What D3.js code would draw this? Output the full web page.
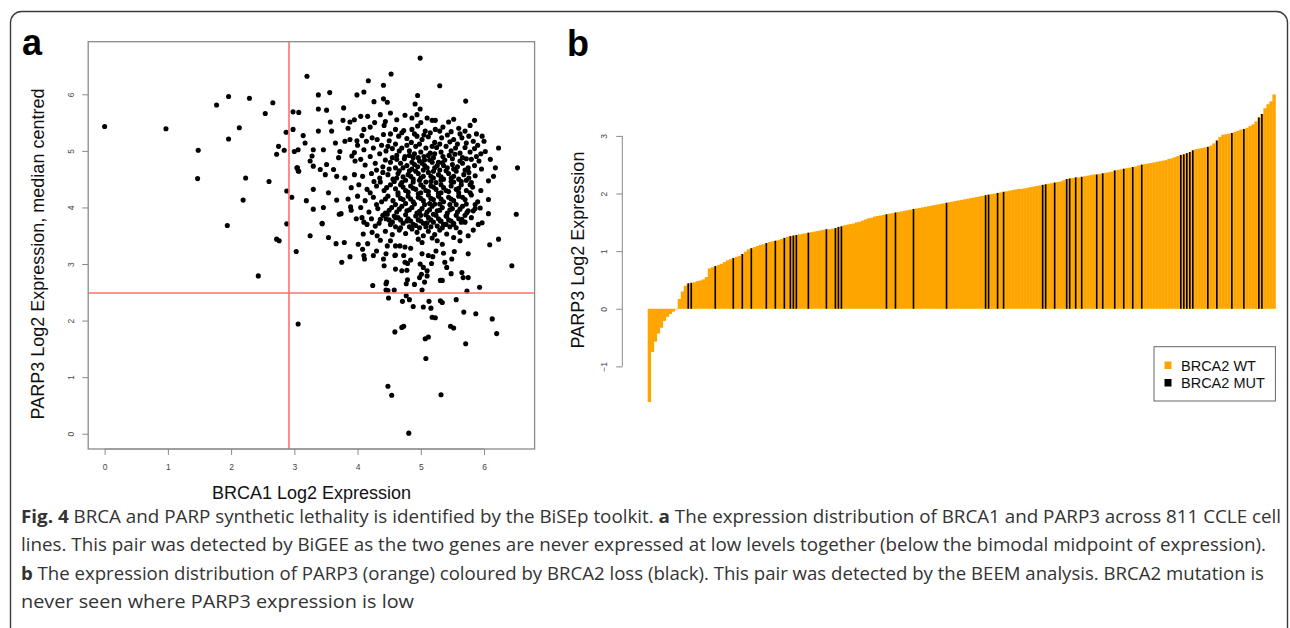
<!DOCTYPE html>
<html><head><meta charset="utf-8">
<script src="https://cdn.jsdelivr.net/npm/d3@7"></script>
<style>body{margin:0;background:#fff}svg{display:block}</style>
</head><body>
<svg id="fig" width="1290" height="628"></svg>
<script>
// ---------- Panel a data: BRCA1 (x) vs PARP3 (y) ----------
const scatterPoints = [
[0.00,5.43],[0.97,5.39],[1.77,5.81],[1.96,5.96],[2.29,5.93],[2.66,5.85],[2.54,5.66],[2.13,5.41],[1.96,5.21],[1.48,5.01],[1.47,4.51],[2.23,4.52],[2.60,4.46],[2.19,4.13],[1.94,3.68],[2.43,2.79],[2.88,4.29],[2.96,4.18],[2.88,3.71],[2.72,3.44],[2.76,3.41],[3.03,3.22],[3.06,1.94],[2.75,5.08],[2.84,5.01],[2.72,4.94],[2.87,5.33],[2.98,5.38],[2.98,5.69],[3.07,5.68],[3.00,4.99],[3.05,4.70],[3.06,4.65],[3.06,5.02],
[4.99,6.64],[3.20,6.32],[4.53,6.36],[4.17,6.24],[4.41,6.16],[5.30,6.15],[3.56,6.03],[3.38,5.99],[3.99,5.99],[4.10,6.04],[4.95,5.98],[5.71,5.88],[4.26,5.87],[4.41,5.92],[4.47,5.86],[4.91,5.83],[4.99,5.74],[3.38,5.74],[3.51,5.72],[3.78,5.76],[3.57,5.51],[3.77,5.54],[3.88,5.51],[3.38,5.35],[3.59,5.35],[3.14,5.27],[3.17,5.14],[3.30,5.02],[3.46,5.02],
[6.23,5.05],[6.53,4.70],[6.51,3.88],[6.18,4.70],[6.10,4.85],[6.02,4.99],[6.07,4.47],[6.15,4.55],[6.07,4.14],[6.07,3.89],[5.97,3.73],[6.23,3.44],
[3.28,4.91],[3.25,4.82],[3.30,4.73],[3.41,4.67],[3.51,4.76],[3.49,4.58],[3.62,4.67],[3.67,4.55],[3.80,4.52],[3.04,4.70],[3.07,4.64],[3.30,4.32],[3.19,4.12],[3.30,3.97],[3.44,3.72],[3.54,4.26],[3.67,4.13],[3.74,3.89],[3.89,4.01],[3.72,4.99],[3.70,4.88],[3.91,4.91],[3.96,4.82],[3.25,3.50],[3.54,3.47],[3.46,4.00],[3.71,3.88],[3.44,3.71],[3.66,3.36],[3.79,3.38],[3.88,3.13],[3.75,3.03],[4.01,3.35],[4.16,3.36],[4.08,3.26],
[4.24,2.62],[4.46,2.68],[4.45,2.54],[4.58,2.54],[4.49,2.40],[4.71,2.34],[4.77,2.65],[4.82,2.37],[4.88,2.25],[4.77,2.44],[4.90,2.64],[5.02,2.54],[5.04,2.24],[5.13,2.34],[5.16,2.22],[5.18,2.06],[5.23,2.05],[5.31,2.35],[5.34,2.32],[5.47,1.90],[5.52,1.87],[5.56,2.37],[5.68,2.15],[5.73,2.52],[5.87,2.12],[5.93,2.59],[6.13,2.03],[6.20,1.77],[5.71,1.59],[5.08,1.33],[5.07,1.68],[5.12,1.71],[4.73,1.90],[4.70,1.88],[4.59,1.80],[4.48,0.84],[4.54,0.68],[5.32,0.69],[4.81,0.01],
[4.25,3.15],[4.30,3.23],[4.36,3.42],[4.41,3.09],[4.47,3.32],[4.52,3.41],[4.60,3.16],[4.60,2.91],[4.73,3.15],[4.75,3.03],[4.78,2.89],[4.84,3.07],[4.84,3.28],[4.99,3.00],[5.02,3.18],[5.10,2.88],[5.12,3.15],[5.17,3.01],[5.24,3.23],[5.31,2.71],[5.34,2.71],[5.36,3.19],[5.41,2.94],[5.48,2.83],[5.53,3.22],[5.65,2.85],[5.67,2.76],[5.75,3.50],[5.75,3.18],[5.75,2.76],[5.91,3.70],[5.94,3.99],[6.09,3.34],[6.44,2.97],[4.60,3.32],[4.67,3.32],[4.75,3.30],[4.96,3.44],[5.02,3.38],[5.18,3.46],[5.26,3.41],[5.34,3.35],[5.41,3.53],[5.52,3.47],[5.62,3.41],[5.62,3.56],[4.07,3.82],[4.15,3.70],[4.28,3.67],[4.36,3.79],[4.47,3.88],[4.09,3.53],[4.23,3.56],[4.31,3.50],[4.44,3.58],[4.52,3.70],[4.60,3.82],[4.78,3.76],[4.86,3.62],[5.10,3.73],[5.20,3.88],[5.31,3.76],[5.41,3.85],[5.52,3.70],[5.65,3.79],[5.73,3.91],[5.83,3.94],
[4.10,3.15],[5.38,3.03],[5.49,3.09],[5.04,2.94],[4.98,2.76],[5.01,2.82],[5.10,2.79],[5.06,2.68],[5.19,3.13],[4.70,2.88],[4.79,3.01],[4.79,2.72],[4.59,3.15],[4.45,3.18],[4.42,2.97],[4.11,3.09],[4.48,2.53],[4.45,2.65],
[4.05,5.61],[4.16,5.61],[4.36,5.64],[4.52,5.67],[4.75,5.63],[4.86,5.58],[4.94,5.64],[5.18,5.54],[5.23,5.54],[5.44,5.51],[5.52,5.56],[5.85,5.54],[4.62,5.55],[4.44,5.52],[5.00,5.50],[5.10,5.58],[4.27,5.50],[3.95,5.55],
[4.60,5.38],[4.73,5.36],[4.86,5.38],[5.07,5.35],[5.15,5.32],[5.23,5.38],[4.20,5.42],[4.42,5.45],[4.95,5.44],[5.35,5.42],[5.60,5.40],[5.70,5.35],[3.85,5.40],[4.10,5.38],[5.78,5.45],[5.88,5.30],
[4.07,5.27],[4.14,5.17],[4.23,5.23],[4.31,5.20],[4.41,5.29],[4.65,5.26],[4.94,5.26],[5.33,5.23],[5.52,5.20],[5.65,5.23],[5.76,5.26],[5.83,5.17],[5.97,5.26],[6.00,5.17],[4.50,5.18],[4.78,5.22],[4.85,5.15],[5.02,5.20],[5.12,5.25],[5.22,5.15],[5.42,5.28],[5.58,5.12],[5.90,5.10],[4.60,5.12],[4.38,5.10],[4.00,5.10],[3.65,5.14],[3.80,5.17],[3.88,5.20],[3.99,5.18],
[4.10,5.02],[4.25,5.05],[4.45,5.00],[4.55,5.04],[4.70,5.05],[4.82,5.00],[4.92,5.08],[5.00,4.98],[5.08,5.05],[5.15,4.96],[5.25,5.06],[5.32,4.98],[5.40,5.08],[5.48,5.00],[5.55,5.05],[5.62,4.96],[5.70,5.06],[5.78,4.98],[5.85,5.04],[5.95,4.95],[4.35,4.95],[4.62,4.92],[4.75,4.90],[4.88,4.88],[5.05,4.90],[5.20,4.88],[5.35,4.90],[5.50,4.86],[5.66,4.88],[5.80,4.85],[5.92,4.82],[4.20,4.90],[3.95,4.97],[4.05,4.85],
[4.12,4.75],[4.28,4.78],[4.40,4.72],[4.52,4.80],[4.60,4.70],[4.68,4.78],[4.78,4.74],[4.86,4.80],[4.95,4.72],[5.02,4.78],[5.10,4.70],[5.18,4.80],[5.26,4.74],[5.34,4.79],[5.42,4.70],[5.50,4.76],[5.58,4.72],[5.66,4.78],[5.75,4.70],[5.85,4.74],[5.96,4.68],[4.98,4.82],[5.14,4.84],[5.30,4.66],[4.82,4.65],
[3.95,4.58],[4.08,4.55],[4.22,4.60],[4.35,4.52],[4.48,4.58],[4.56,4.50],[4.64,4.60],[4.72,4.54],[4.80,4.58],[4.88,4.50],[4.96,4.60],[5.04,4.55],[5.12,4.62],[5.20,4.52],[5.28,4.58],[5.36,4.50],[5.44,4.60],[5.52,4.55],[5.60,4.50],[5.68,4.58],[5.76,4.52],[5.86,4.56],[4.92,4.64],[5.08,4.45],[5.24,4.44],[4.70,4.44],
[3.90,4.35],[4.02,4.40],[4.15,4.32],[4.30,4.38],[4.42,4.30],[4.52,4.40],[4.60,4.33],[4.68,4.40],[4.76,4.30],[4.84,4.38],[4.92,4.32],[5.00,4.40],[5.08,4.30],[5.16,4.38],[5.24,4.32],[5.32,4.40],[5.40,4.30],[5.48,4.38],[5.56,4.32],[5.64,4.40],[5.72,4.30],[5.82,4.36],[5.95,4.30],[4.88,4.45],[5.52,4.45],[4.36,4.45],
[3.85,4.15],[4.00,4.20],[4.12,4.12],[4.25,4.18],[4.38,4.10],[4.48,4.20],[4.56,4.12],[4.64,4.22],[4.72,4.14],[4.80,4.20],[4.88,4.10],[4.96,4.18],[5.04,4.12],[5.12,4.22],[5.20,4.14],[5.28,4.20],[5.36,4.10],[5.44,4.18],[5.52,4.12],[5.60,4.20],[5.70,4.14],[5.80,4.22],[5.90,4.10],[5.00,4.26],[5.32,4.26],
[3.90,3.95],[4.05,4.00],[4.18,3.92],[4.32,3.98],[4.44,3.90],[4.54,4.00],[4.62,3.92],[4.70,4.02],[4.78,3.94],[4.86,4.00],[4.94,3.90],[5.02,3.98],[5.10,3.92],[5.18,4.02],[5.26,3.94],[5.34,4.00],[5.42,3.90],[5.50,3.98],[5.58,3.92],[5.66,4.02],[5.75,3.94],[5.86,3.98],[4.90,4.06],[5.22,4.06],[5.46,4.05],
[3.98,3.80],[4.10,3.74],[4.22,3.80],[4.34,3.72],[4.45,3.80],[4.55,3.74],[4.64,3.82],[4.72,3.72],[4.80,3.80],[4.88,3.70],[4.96,3.78],[5.04,3.72],[5.12,3.82],[5.20,3.74],[5.28,3.80],[5.36,3.70],[5.44,3.78],[5.52,3.72],[5.60,3.80],[5.70,3.74],[5.80,3.82],[5.00,3.86],[5.16,3.66],[4.68,3.64],
[4.55,3.52],[4.66,3.60],[4.76,3.54],[4.94,3.56],[5.04,3.50],[5.12,3.58],[5.22,3.52],[5.30,3.60],[5.83,3.60],[4.98,3.64],[5.34,3.64],
[4.62,4.85],[4.74,4.86],[4.90,4.95],[5.06,4.84],[5.22,4.95],[5.38,4.84],[5.54,4.94],[4.66,4.65],[4.86,4.68],[5.04,4.66],[5.20,4.64],[5.40,4.65],[5.56,4.64],[4.58,4.46],[4.76,4.48],[4.98,4.48],[5.16,4.46],[5.32,4.48],[5.48,4.46],[5.64,4.46],[4.64,4.26],[4.80,4.27],[4.96,4.24],[5.12,4.28],[5.28,4.25],[5.44,4.28],[5.60,4.26],[4.60,4.05],[4.76,4.07],[5.06,4.05],[5.14,4.07],[5.30,4.06],[5.56,4.05],[5.72,4.06],[4.58,3.85],[4.76,3.87],[4.92,3.85],[5.08,3.87],[5.24,3.86],[5.40,3.85],[5.56,3.86],[4.82,3.66],[5.08,3.66],[5.26,3.67],[5.46,3.66],[4.40,4.62],[4.44,4.84],[4.30,4.66],[4.26,4.46],[4.20,4.26],[4.30,4.05],[4.40,3.86],[5.76,4.62],[5.72,4.86],[5.80,4.44],[5.78,4.26],[5.86,4.05],[5.70,3.86],
[4.52,5.30],[4.70,5.32],[4.90,5.30],[5.05,5.28],[5.30,5.35],[5.48,5.34],[5.62,5.30],
[4.48,5.08],[4.66,5.00],[4.78,5.10],[4.98,5.12],[5.18,5.08],[5.30,5.12],[5.46,5.16],[5.72,5.14],
[4.55,4.88],[4.82,4.92],[4.96,4.88],[5.12,4.92],[5.28,4.80],[5.45,4.92],[5.62,4.82],[5.88,4.90],
[4.50,4.68],[4.72,4.70],[4.90,4.76],[5.06,4.74],[5.22,4.70],[5.36,4.74],[5.52,4.68],[5.70,4.66],
[4.62,4.52],[4.84,4.55],[5.00,4.52],[5.16,4.55],[5.32,4.54],[5.48,4.52],[5.72,4.48],
[4.46,4.35],[4.72,4.36],[4.88,4.34],[5.04,4.36],[5.20,4.36],[5.36,4.35],[5.60,4.34],[5.78,4.40],
[4.44,4.15],[4.68,4.16],[4.84,4.15],[5.00,4.16],[5.16,4.16],[5.32,4.15],[5.48,4.15],[5.66,4.18],
[4.50,3.95],[4.66,3.97],[4.82,3.96],[4.98,3.93],[5.14,3.96],[5.30,3.95],[5.46,3.96],[5.62,3.97],
[4.50,3.78],[4.68,3.78],[4.84,3.76],[5.00,3.76],[5.16,3.78],[5.32,3.76],[5.48,3.76],[5.64,3.74],
[4.60,3.66],[4.92,3.68],[5.40,3.70],[5.56,3.64]
];
const xTicksA = [0,1,2,3,4,5,6];
const yTicksA = [0,1,2,3,4,5,6];
const brca1Midpoint = 2.92;
const parp3Midpoint = 2.48;

// ---------- Panel b data: PARP3 sorted expression ----------
const parp3Sorted = [
-1.62,-0.75,-0.57,-0.43,-0.33,-0.21,-0.14,-0.09,-0.05,-0.01,
0.17,0.30,0.40,0.44,0.45,0.46,0.48,0.49,0.51,0.55,
0.70,0.72,0.74,0.76,0.78,0.81,0.84,0.86,0.88,0.90,
0.92,0.95,0.99,1.03,1.05,1.07,1.09,1.11,1.12,1.14,
1.16,1.17,1.18,1.19,1.21,1.23,1.25,1.26,1.27,1.28,
1.29,1.30,1.31,1.32,1.33,1.34,1.35,1.36,1.37,1.38,
1.38,1.39,1.40,1.42,1.43,1.45,1.46,1.47,1.48,1.50,
1.51,1.53,1.55,1.57,1.58,1.60,1.61,1.62,1.63,1.64,
1.65,1.66,1.67,1.68,1.69,1.70,1.71,1.72,1.73,1.74,
1.75,1.76,1.77,1.78,1.79,1.80,1.81,1.82,1.83,1.84,
1.85,1.86,1.87,1.88,1.89,1.90,1.91,1.92,1.93,1.94,
1.95,1.96,1.97,1.98,1.99,2.00,2.01,2.02,2.03,2.04,
2.05,2.06,2.07,2.08,2.08,2.09,2.10,2.11,2.12,2.13,
2.14,2.15,2.16,2.17,2.18,2.19,2.20,2.21,2.23,2.25,
2.26,2.27,2.28,2.28,2.29,2.30,2.31,2.32,2.33,2.33,
2.34,2.35,2.36,2.37,2.38,2.40,2.41,2.42,2.43,2.44,
2.45,2.46,2.47,2.49,2.50,2.51,2.52,2.53,2.54,2.55,
2.56,2.57,2.58,2.60,2.61,2.63,2.65,2.67,2.68,2.70,
2.72,2.75,2.77,2.78,2.79,2.80,2.81,2.83,2.87,2.92,
2.98,3.02,3.03,3.04,3.05,3.07,3.09,3.11,3.12,3.14,
3.17,3.20,3.25,3.32,3.38,3.48,3.55,3.60,3.72
];
// positions (in sorted order) of BRCA2-mutant cell lines
const brca2MutIndex = [13,14,22,28,31,34,39,42,45,47,48,49,53,59,62,63,64,79,82,88,99,112,113,116,118,131,132,135,139,140,142,144,149,151,155,158,161,164,177,178,179,180,181,186,189,194,198,203,204];
const yTicksB = [-1,0,1,2,3];
const legendItems = [{label:"BRCA2 WT", color:"#FFA500"},{label:"BRCA2 MUT", color:"#000000"}];

// ---------- Caption ----------
const captionLines = [
  [["Fig. 4",true],[" BRCA and PARP synthetic lethality is identified by the BiSEp toolkit. ",false],["a",true],[" The expression distribution of BRCA1 and PARP3 across 811 CCLE cell",false]],
  [["lines. This pair was detected by BiGEE as the two genes are never expressed at low levels together (below the bimodal midpoint of expression).",false]],
  [["b",true],[" The expression distribution of PARP3 (orange) coloured by BRCA2 loss (black). This pair was detected by the BEEM analysis. BRCA2 mutation is",false]],
  [["never seen where PARP3 expression is low",false]]
];
const captionWidths = [1260, 1245, 1243, 393];

const svg = d3.select("#fig");
const FONT = "'Liberation Sans', Arial, Helvetica, sans-serif";

// outer frame
svg.append("rect").attr("x",10.5).attr("y",11.5).attr("width",1277).attr("height",700)
  .attr("rx",11).attr("fill","none").attr("stroke","#3a3a3a").attr("stroke-width",1.4);

// ---------- Panel a ----------
const xA = d3.scaleLinear().domain([-0.26, 6.80]).range([88.2, 534.6]);
const yA = d3.scaleLinear().domain([-0.27, 6.93]).range([449, 41.7]);
const gA = svg.append("g");

gA.append("g").selectAll("circle").data(scatterPoints).join("circle")
  .attr("cx", d => xA(d[0])).attr("cy", d => yA(d[1])).attr("r", 2.55).attr("fill", "#000");

const vx = Math.round(xA(brca1Midpoint));
const hy = Math.round(yA(parp3Midpoint));
gA.append("line").attr("x1", vx).attr("x2", vx)
  .attr("y1", yA.range()[0]).attr("y2", yA.range()[1]).attr("stroke", "#ff6e6e").attr("stroke-width", 1.6);
gA.append("line").attr("y1", hy).attr("y2", hy)
  .attr("x1", xA.range()[0]).attr("x2", xA.range()[1]).attr("stroke", "#ff6e6e").attr("stroke-width", 1.6);

gA.append("rect").attr("x", xA.range()[0]).attr("y", yA.range()[1])
  .attr("width", xA.range()[1]-xA.range()[0]).attr("height", yA.range()[0]-yA.range()[1])
  .attr("fill","none").attr("stroke","#8a8a8a").attr("stroke-width",1.3);

const axXA = gA.append("g").attr("transform", `translate(0,${yA.range()[0]})`)
  .call(d3.axisBottom(xA).tickValues(xTicksA).tickSize(6).tickPadding(9).tickFormat(d3.format("d")));
axXA.select(".domain").remove();
axXA.append("line").attr("x1", xA(xTicksA[0])).attr("x2", xA(xTicksA[xTicksA.length-1])).attr("stroke","#8a8a8a");
axXA.selectAll(".tick line").attr("stroke","#8a8a8a");
axXA.selectAll(".tick text").attr("font-family",FONT).attr("font-size",8.5).attr("fill","#444");

const axYA = gA.append("g").attr("transform", `translate(${xA.range()[0]},0)`)
  .call(d3.axisLeft(yA).tickValues(yTicksA).tickSize(6).tickFormat(d3.format("d")));
axYA.select(".domain").remove();
axYA.selectAll(".tick line").attr("stroke","#8a8a8a");
axYA.selectAll(".tick text").attr("font-family",FONT).attr("font-size",8.5).attr("fill","#444")
  .attr("transform","rotate(-90)").attr("x",0).attr("y",-14).attr("dy",null).attr("text-anchor","middle");

gA.append("text").attr("x", 311.5).attr("y", 499).attr("text-anchor","middle")
  .attr("font-family",FONT).attr("font-size",18).attr("fill","#111").text("BRCA1 Log2 Expression");
gA.append("text").attr("transform","translate(44,254) rotate(-90)").attr("text-anchor","middle")
  .attr("font-family",FONT).attr("font-size",18).attr("fill","#111").text("PARP3 Log2 Expression, median centred");
svg.append("text").attr("x",22).attr("y",55).attr("font-family",FONT).attr("font-weight","bold")
  .attr("font-size",36).attr("fill","#000").text("a");

// ---------- Panel b ----------
const xB = d3.scaleBand().domain(d3.range(parp3Sorted.length)).range([647.7, 1275.4]).padding(0);
const yB = d3.scaleLinear().domain([-1, 3]).range([366.4, 135.9]);
const gB = svg.append("g");
const bw = xB.bandwidth();

gB.append("g").selectAll("rect").data(parp3Sorted).join("rect")
  .attr("x", (d,i) => xB(i)).attr("width", bw + 0.4)
  .attr("y", d => Math.min(yB(d), yB(0))).attr("height", d => Math.abs(yB(d) - yB(0)))
  .attr("fill", "#FFA500");

gB.append("g").selectAll("rect").data(brca2MutIndex).join("rect")
  .attr("x", i => xB(i) + bw/2 - 0.8).attr("width", 1.6)
  .attr("y", i => Math.min(yB(parp3Sorted[i]), yB(0))).attr("height", i => Math.abs(yB(parp3Sorted[i]) - yB(0)))
  .attr("fill", "#000");

const axYB = gB.append("g").attr("transform","translate(622.3,0)")
  .call(d3.axisLeft(yB).tickValues(yTicksB).tickSize(6).tickFormat(d3.format("d")));
axYB.select(".domain").remove();
axYB.append("line").attr("y1", yB(yTicksB[0])).attr("y2", yB(yTicksB[yTicksB.length-1])).attr("stroke","#8a8a8a");
axYB.selectAll(".tick line").attr("stroke","#8a8a8a");
axYB.selectAll(".tick text").attr("font-family",FONT).attr("font-size",8.5).attr("fill","#444")
  .attr("transform","rotate(-90)").attr("x",0).attr("y",-15).attr("dy",null).attr("text-anchor","middle");

gB.append("text").attr("transform","translate(584,250) rotate(-90)").attr("text-anchor","middle")
  .attr("font-family",FONT).attr("font-size",18).attr("fill","#111").text("PARP3 Log2 Expression");
svg.append("text").attr("x",567).attr("y",56).attr("font-family",FONT).attr("font-weight","bold")
  .attr("font-size",36).attr("fill","#000").text("b");

// legend
const lg = gB.append("g");
lg.append("rect").attr("x",1154).attr("y",346.7).attr("width",121.4).attr("height",54.3)
  .attr("fill","#fff").attr("stroke","#666").attr("stroke-width",1);
const li = lg.selectAll("g.item").data(legendItems).join("g").attr("class","item")
  .attr("transform",(d,i)=>`translate(0,${i*17.5})`);
li.append("rect").attr("x",1164.5).attr("y",361.5).attr("width",7).attr("height",7.5).attr("fill",d=>d.color);
li.append("text").attr("x",1181).attr("y",370.5).attr("font-family",FONT).attr("font-size",14.5)
  .attr("fill","#111").text(d=>d.label);

// ---------- Caption ----------
const CAPFONT = "'Open Sans','Noto Sans',sans-serif";
const cap = svg.append("g");
captionLines.forEach((segs, li2) => {
  const t = cap.append("text").attr("x", 21).attr("y", 523 + li2*28.3)
    .attr("font-family", CAPFONT).attr("font-size", 17.5).attr("fill", "#333")
    .attr("textLength", captionWidths[li2]).attr("lengthAdjust", "spacingAndGlyphs")
    .attr("xml:space","preserve");
  segs.forEach(s => t.append("tspan").attr("font-weight", s[1] ? "bold" : "normal").text(s[0]));
});
</script>
</body></html>
